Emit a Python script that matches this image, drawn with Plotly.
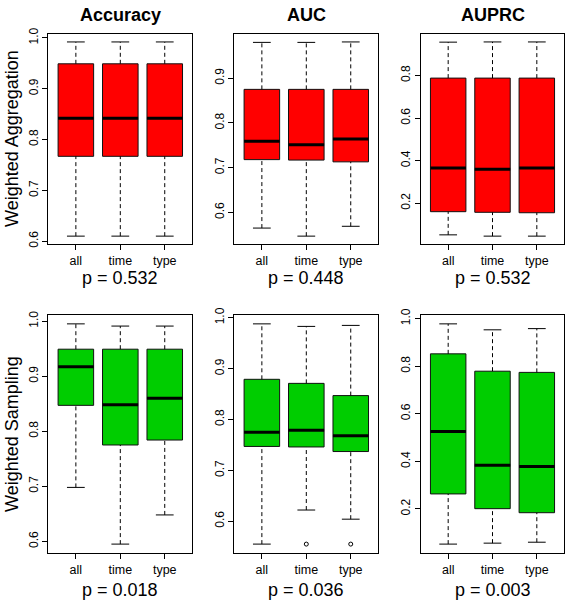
import plotly.graph_objects as go

# ---------------- data ----------------
metrics = ["Accuracy", "AUC", "AUPRC"]
row_labels = ["Weighted Aggregation", "Weighted Sampling"]
groups = ["all", "time", "type"]

# Weighted Aggregation
acc_agg_low = [0.610, 0.610, 0.610]
acc_agg_q1 = [0.767, 0.767, 0.767]
acc_agg_med = [0.842, 0.842, 0.842]
acc_agg_q3 = [0.949, 0.949, 0.949]
acc_agg_up = [0.992, 0.992, 0.992]

auc_agg_low = [0.565, 0.547, 0.569]
auc_agg_q1 = [0.718, 0.717, 0.713]
auc_agg_med = [0.759, 0.751, 0.764]
auc_agg_q3 = [0.875, 0.875, 0.875]
auc_agg_up = [0.980, 0.980, 0.981]

auprc_agg_low = [0.051, 0.045, 0.045]
auprc_agg_q1 = [0.160, 0.157, 0.155]
auprc_agg_med = [0.365, 0.360, 0.365]
auprc_agg_q3 = [0.788, 0.788, 0.788]
auprc_agg_up = [0.957, 0.958, 0.958]

# Weighted Sampling
acc_smp_low = [0.698, 0.595, 0.648]
acc_smp_q1 = [0.847, 0.775, 0.784]
acc_smp_med = [0.917, 0.848, 0.860]
acc_smp_q3 = [0.949, 0.949, 0.949]
acc_smp_up = [0.995, 0.991, 0.991]

auc_smp_low = [0.555, 0.622, 0.604]
auc_smp_q1 = [0.747, 0.746, 0.737]
auc_smp_med = [0.775, 0.779, 0.768]
auc_smp_q3 = [0.879, 0.871, 0.847]
auc_smp_up = [0.988, 0.983, 0.985]
auc_smp_out_x = ["time", "type"]
auc_smp_out_y = [0.555, 0.555]

auprc_smp_low = [0.052, 0.056, 0.060]
auprc_smp_q1 = [0.263, 0.201, 0.184]
auprc_smp_med = [0.525, 0.384, 0.378]
auprc_smp_q3 = [0.852, 0.779, 0.774]
auprc_smp_up = [0.978, 0.953, 0.958]

p_values = [["0.532", "0.448", "0.532"], ["0.018", "0.036", "0.003"]]
y_dticks = [[0.1, 0.1, 0.2], [0.1, 0.1, 0.2]]
row_colors = ["#FF0000", "#00CD00"]

panels = [
    [
        (acc_agg_low, acc_agg_q1, acc_agg_med, acc_agg_q3, acc_agg_up, [], []),
        (auc_agg_low, auc_agg_q1, auc_agg_med, auc_agg_q3, auc_agg_up, [], []),
        (auprc_agg_low, auprc_agg_q1, auprc_agg_med, auprc_agg_q3, auprc_agg_up, [], []),
    ],
    [
        (acc_smp_low, acc_smp_q1, acc_smp_med, acc_smp_q3, acc_smp_up, [], []),
        (auc_smp_low, auc_smp_q1, auc_smp_med, auc_smp_q3, auc_smp_up, auc_smp_out_x, auc_smp_out_y),
        (auprc_smp_low, auprc_smp_q1, auprc_smp_med, auprc_smp_q3, auprc_smp_up, [], []),
    ],
]

# ---------------- layout geometry (pixels) ----------------
W, H = 565, 602
col_px = [(48.3, 192.3), (234.3, 378.3), (420.7, 564.3)]
row_px = [(26.7, 240.7), (313.3, 556.0)]
p_offset = [35, 37.5]

FONT = "Liberation Sans, Arial, Helvetica, sans-serif"
BOXW = 0.8
CAPW = 0.4

fig = go.Figure()
layout = dict(
    width=W, height=H,
    margin=dict(l=0, r=0, t=0, b=0),
    paper_bgcolor="white", plot_bgcolor="white",
    showlegend=False,
    font=dict(family=FONT, color="black", size=12),
)
annotations = []

for r in range(2):
    for c in range(3):
        idx = r * 3 + c + 1
        xa = "x" if idx == 1 else f"x{idx}"
        ya = "y" if idx == 1 else f"y{idx}"
        low, q1, med, q3, up, ox, oy = panels[r][c]
        pos = {g: i + 1 for i, g in enumerate(groups)}
        xs = [pos[g] for g in groups]

        # box bodies
        fig.add_trace(go.Box(
            x=xs, q1=q1, median=med, q3=q3, lowerfence=q1, upperfence=q3,
            width=BOXW, whiskerwidth=0, fillcolor=row_colors[r],
            line=dict(color="#111111", width=1), boxpoints=False,
            xaxis=xa, yaxis=ya, hoverinfo="skip",
        ))
        # dashed whiskers
        wx, wy = [], []
        for x, l, a, b, u in zip(xs, low, q1, q3, up):
            wx += [x, x, None, x, x, None]
            wy += [b, u, None, l, a, None]
        fig.add_trace(go.Scatter(x=wx, y=wy, mode="lines",
                                 line=dict(color="black", width=1, dash="4px,3px"),
                                 xaxis=xa, yaxis=ya, hoverinfo="skip"))
        # staples
        sx, sy = [], []
        for x, l, u in zip(xs, low, up):
            sx += [x - CAPW / 2, x + CAPW / 2, None, x - CAPW / 2, x + CAPW / 2, None]
            sy += [u, u, None, l, l, None]
        fig.add_trace(go.Scatter(x=sx, y=sy, mode="lines",
                                 line=dict(color="black", width=1),
                                 xaxis=xa, yaxis=ya, hoverinfo="skip"))
        # thick medians
        mx, my = [], []
        for x, m in zip(xs, med):
            mx += [x - BOXW / 2, x + BOXW / 2, None]
            my += [m, m, None]
        fig.add_trace(go.Scatter(x=mx, y=my, mode="lines",
                                 line=dict(color="black", width=3),
                                 xaxis=xa, yaxis=ya, hoverinfo="skip"))
        # outliers
        if ox:
            fig.add_trace(go.Scatter(x=[pos[g] for g in ox], y=oy, mode="markers",
                                     marker=dict(symbol="circle-open", size=4,
                                                 color="black", line=dict(width=1)),
                                     xaxis=xa, yaxis=ya, hoverinfo="skip"))

        allv = low + up + list(oy)
        lo, hi = min(allv), max(allv)
        pad = 0.04 * (hi - lo)
        x0, x1 = col_px[c]
        y0, y1 = row_px[r]
        layout["xaxis" if idx == 1 else f"xaxis{idx}"] = dict(
            domain=[x0 / W, x1 / W], range=[0.38, 3.62],
            tickvals=xs, ticktext=groups, ticks="outside", ticklen=5,
            tickcolor="black", showline=True, linecolor="black", linewidth=1,
            mirror=True, showgrid=False, zeroline=False, anchor=ya,
            tickfont=dict(size=12.5, color="black"),
        )
        layout["yaxis" if idx == 1 else f"yaxis{idx}"] = dict(
            domain=[1 - y1 / H, 1 - y0 / H], range=[lo - pad, hi + pad],
            dtick=y_dticks[r][c], tick0=0, tickformat=".1f", tickangle=-90,
            ticks="outside", ticklen=5, tickcolor="black",
            showline=True, linecolor="black", linewidth=1, mirror=True,
            showgrid=False, zeroline=False, anchor=xa,
            tickfont=dict(size=12, color="black"),
        )
        # p-value annotation
        annotations.append(dict(
            text=f"p = {p_values[r][c]}", xref="paper", yref="paper",
            x=(x0 + x1) / 2 / W, y=1 - (y1 + p_offset[r]) / H,
            xanchor="center", yanchor="middle", showarrow=False,
            font=dict(size=18, family=FONT, color="black"),
        ))
        if r == 0:
            annotations.append(dict(
                text=f"<b>{metrics[c]}</b>", xref="paper", yref="paper",
                x=(x0 + x1) / 2 / W, y=1.0 + 5 / H,
                xanchor="center", yanchor="top", showarrow=False,
                font=dict(size=18, family=FONT, color="black"),
            ))
    y0, y1 = row_px[r]
    annotations.append(dict(
        text=row_labels[r], xref="paper", yref="paper",
        x=0.0, y=1 - (y0 + y1) / 2 / H, textangle=-90,
        xanchor="left", yanchor="middle", showarrow=False,
        font=dict(size=18, family=FONT, color="black"),
    ))

layout["annotations"] = annotations
fig.update_layout(**layout)
fig.write_html(
    "out.html",
    config={"displayModeBar": False},
    post_script="document.body.style.margin='0';document.body.style.overflow='hidden';",
)
